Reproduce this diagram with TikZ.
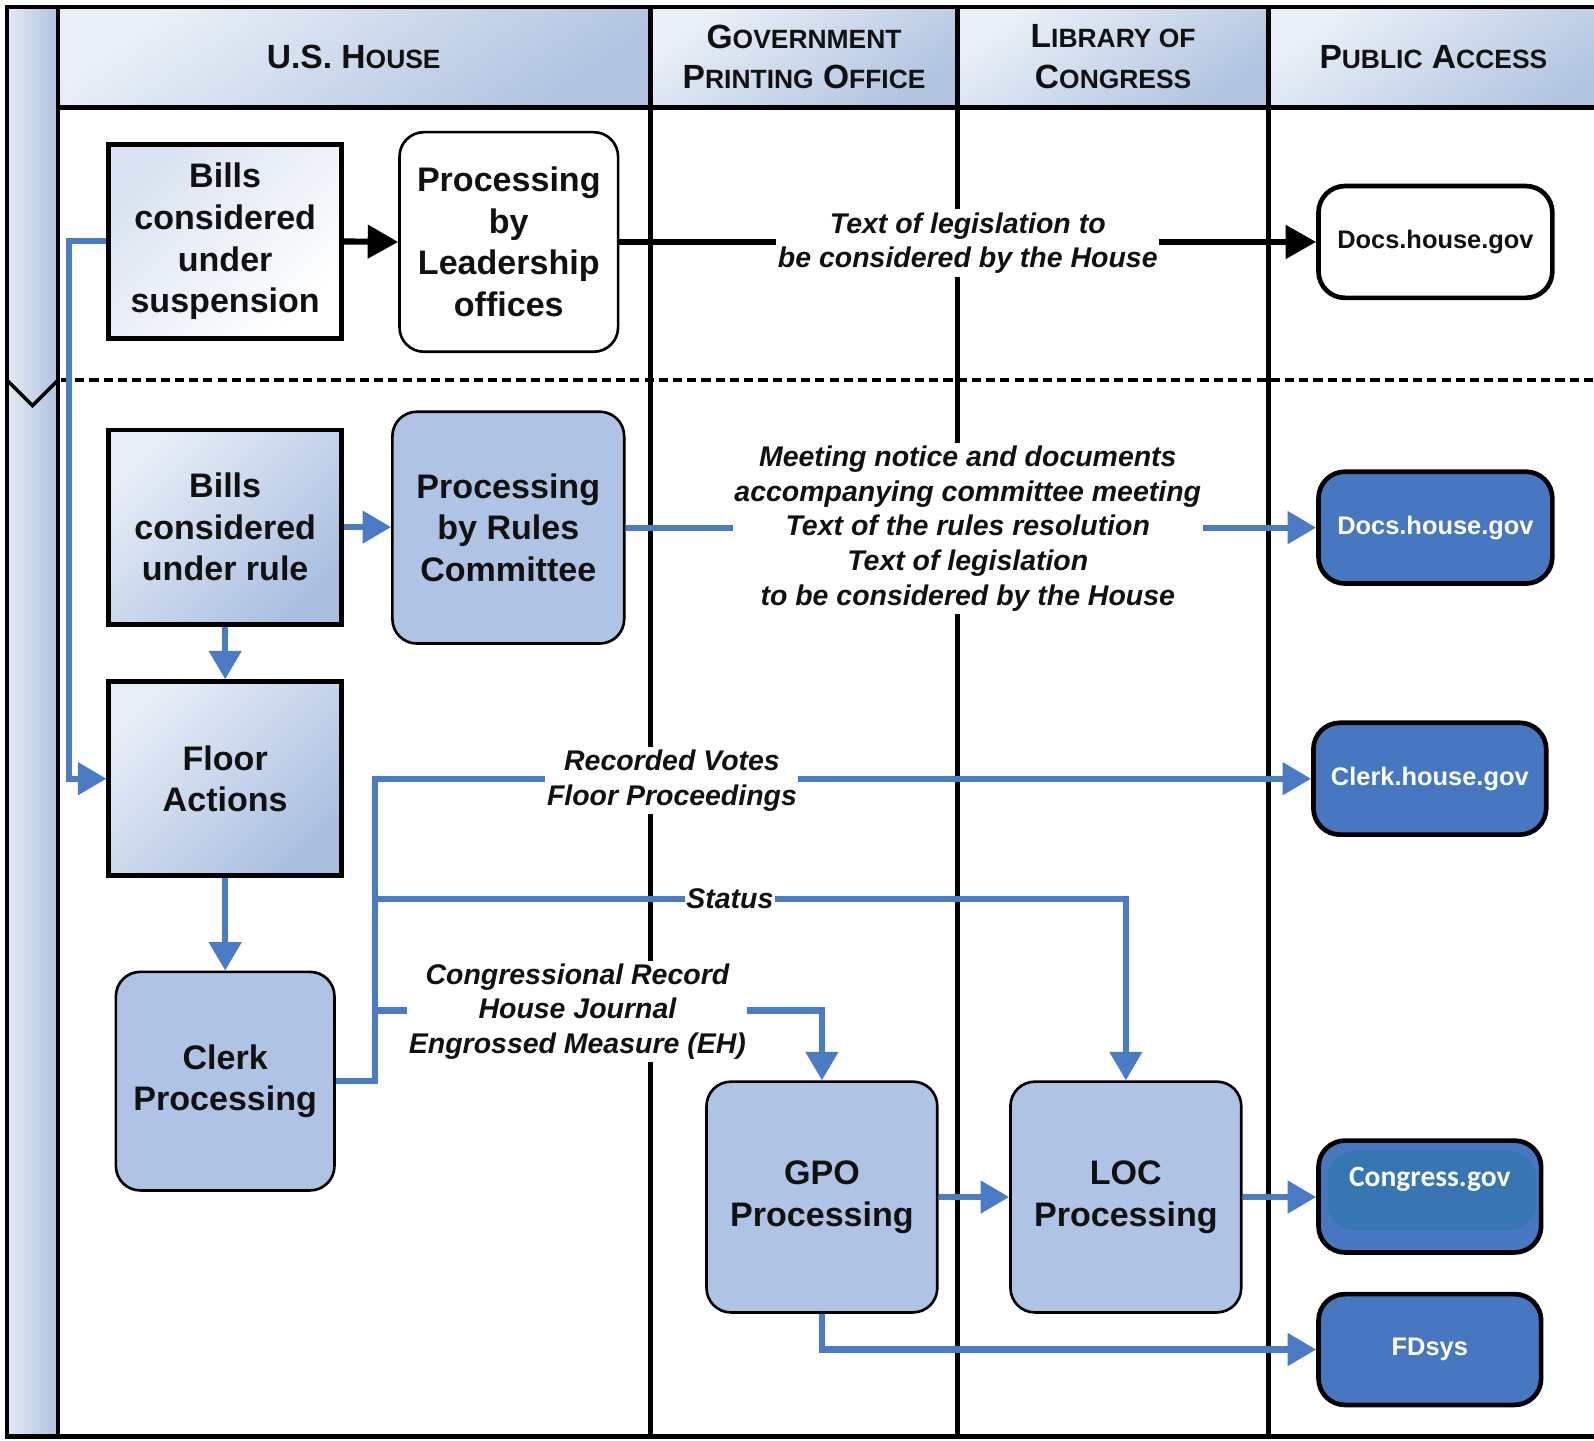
\documentclass[tikz,border=0pt]{standalone}
\usepackage{fontspec}
\setmainfont{Liberation Sans}
\newfontfamily\carlito{Carlito}
\usetikzlibrary{arrows.meta,calc}
\definecolor{lblue}{HTML}{AFC4E5}
\definecolor{dblue}{HTML}{4677C0}
\definecolor{lineblue}{HTML}{4A7BC4}
\definecolor{cgin}{HTML}{3776B2}
\definecolor{hdrL}{HTML}{EAF0F8}
\definecolor{hdrD}{HTML}{B0C3E0}
\definecolor{stripL}{HTML}{E4EBF5}
\definecolor{stripD}{HTML}{AFC2DF}
\definecolor{boxL}{HTML}{E6EDF7}
\definecolor{boxD}{HTML}{AABFE0}
\definecolor{suspL}{HTML}{D9E3F1}
\definecolor{txt}{HTML}{111111}
\newcommand\HB[1]{{\fontsize{33}{40}\selectfont #1}}
\newcommand\HS[1]{{\fontsize{26}{40}\selectfont #1}}
\newcommand\boxfont{\fontsize{33.5}{41}\selectfont\bfseries}
\newcommand\lblfont{\fontsize{28}{34}\selectfont\bfseries\itshape}
\newcommand\webfont{\fontsize{25}{30}\selectfont\bfseries}
\begin{document}
\begin{tikzpicture}[x=1pt,y=-1pt,
  lane/.style={line width=4.6pt, black},
  hdr/.style={align=center, font=\fontsize{33}{40}\selectfont\bfseries, text=txt},
  sqbox/.style={draw, line width=4.6pt, minimum width=229pt, minimum height=191pt,
     align=center, font=\boxfont, text=txt, inner sep=0pt},
  rbox/.style={draw, line width=2.6pt, rounded corners=24pt, fill=lblue,
     align=center, font=\boxfont, text=txt, inner sep=0pt},
  webw/.style={draw, line width=4.6pt, rounded corners=26pt, fill=white,
     minimum width=230pt, minimum height=110pt, font=\webfont, text=txt, inner sep=0pt},
  webb/.style={webw, fill=dblue, text=white},
  lbl/.style={fill=white, align=center, font=\lblfont, text=txt, inner xsep=1.5pt, inner ysep=3pt},
  blarrow/.style={line width=6pt, lineblue, -{Triangle[length=28pt,width=31pt]}},
  bkarrow/.style={line width=6pt, black, -{Triangle[length=30pt,width=32pt]}}
]
\useasboundingbox (0,0) rectangle (1568,1417);
% swimlane background
\shade[left color=stripL, right color=stripD] (7,7) rectangle (57,1413);
\shade[top color=hdrL, bottom color=hdrD, shading angle=35] (57,7) rectangle (640,106);
\shade[top color=hdrL, bottom color=hdrD, shading angle=35] (640,7) rectangle (942,106);
\shade[top color=hdrL, bottom color=hdrD, shading angle=35] (942,7) rectangle (1248,106);
\shade[top color=hdrL, bottom color=hdrD, shading angle=35] (1248,7) rectangle (1600,106);
\draw[lane] (1600,7) -- (7,7) -- (7,1413) -- (1600,1413);
\draw[lane] (57,7) -- (57,1413);
\draw[lane] (640,7) -- (640,1413);
\draw[lane] (942,7) -- (942,1413);
\draw[lane] (1248,7) -- (1248,1413);
\draw[lane] (57,106) -- (1600,106);
\draw[line width=4pt, dash pattern=on 9pt off 5pt] (60,374) -- (1600,374);
\draw[line width=3.6pt] (7,374) -- (32,399) -- (57,374);
% header texts
\node[hdr] (hHouse) at (348,56) {\HB{U}.\HB{S}. \HB{H}\HS{OUSE}};
\node[hdr] (hGPO) at (791,56) {\HB{G}\HS{OVERNMENT}\\\HB{P}\HS{RINTING} \HB{O}\HS{FFICE}};
\node[hdr] (hLOC) at (1095,56) {\HB{L}\HS{IBRARY OF}\\\HB{C}\HS{ONGRESS}};
\node[hdr] (hPub) at (1410,56) {\HB{P}\HS{UBLIC} \HB{A}\HS{CCESS}};
% nodes
\node[sqbox, top color=suspL, bottom color=white, shading angle=45] (susp) at (221.5,237.5) {Bills\\considered\\under\\suspension};
\node[rbox, fill=white, minimum width=215pt, minimum height=216pt] (lead) at (500.5,238) {Processing\\by\\Leadership\\offices};
\node[webw] (docs1) at (1412,238) {Docs.house.gov};
\node[sqbox, top color=boxL, bottom color=boxD, shading angle=45] (rule) at (221.5,518.5) {Bills\\considered\\under rule};
\node[rbox, minimum width=228pt, minimum height=228pt] (rules) at (500,519) {Processing\\by Rules\\Committee};
\node[webb] (docs2) at (1412,519) {Docs.house.gov};
\node[sqbox, top color=boxL, bottom color=boxD, shading angle=45] (floor) at (221.5,766) {Floor\\Actions};
\node[rbox, minimum width=215pt, minimum height=215pt] (clerk) at (221.5,1063.5) {Clerk\\Processing};
\node[webb, minimum width=229pt] (clerkgov) at (1406.5,766) {Clerk.house.gov};
\node[rbox, minimum width=227pt, minimum height=227pt] (gpo) at (808.5,1177.5) {GPO\\Processing};
\node[rbox, minimum width=227pt, minimum height=227pt] (loc) at (1107.5,1177.5) {LOC\\Processing};
\node[webb, minimum width=219pt,
  path picture={\fill[cgin] ($(path picture bounding box.north west)+(9,10)$) rectangle ($(path picture bounding box.south east)+(-5,-22)$);},
  font=\carlito\fontsize{29}{34}\selectfont\bfseries] (congress) at (1406.5,1177) {\raisebox{17pt}[\height][\depth]{Congress.gov}};
\node[webb, minimum width=219pt, minimum height=109pt] (fdsys) at (1406.5,1327.5) {FDsys};
% connectors
\coordinate (trunkS) at (368,884);
\coordinate (trunkC) at (368,994);
\draw[bkarrow] (susp.east) -- (lead.west);
\draw[bkarrow] (lead.east) -- (docs1.west);
\draw[blarrow] (susp.west) -- ++(-37,0) |- (floor.west);
\draw[blarrow] (rule.east) -- (rule.east -| rules.west);
\draw[blarrow] (rules.east) -- (docs2.west);
\draw[blarrow] (rule.south) -- (floor.north);
\draw[blarrow] (floor.south) -- (clerk.north);
\draw[blarrow] (clerk.east) -- ++(39,0) |- (clerkgov.west);
\draw[blarrow] (trunkS) -| (loc.north);
\draw[blarrow] (trunkC) -| (gpo.north);
\draw[blarrow] (gpo.east) -- (loc.west);
\draw[blarrow] (loc.east) -- (loc.east -| congress.west);
\draw[blarrow] (gpo.south) |- (fdsys.west);
% labels
\node[lbl] (l1) at (952,239) {Text of legislation to\\be considered by the House};
\node[lbl] (l2) at (952,520) {Meeting notice and documents\\accompanying committee meeting\\Text of the rules resolution\\Text of legislation\\to be considered by the House};
\node[lbl] (l3) at (661,768) {Recorded Votes\\Floor Proceedings};
\node[lbl] (l4) at (718,884) {Status};
\node[lbl] (l5) at (568,995) {Congressional Record\\House Journal\\Engrossed Measure (EH)};
\end{tikzpicture}
\end{document}
